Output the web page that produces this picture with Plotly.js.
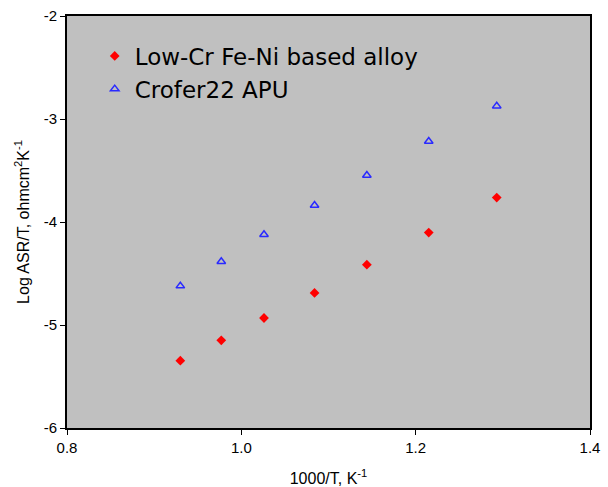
<!DOCTYPE html>
<html>
<head>
<meta charset="utf-8">
<script src="https://cdn.plot.ly/plotly-3.0.1.min.js"></script>
<style>html,body{margin:0;padding:0;background:#fff;}#chart{width:608px;height:487px;}</style>
</head>
<body>
<div id="chart"></div>
<script>
// Data
const invT = [0.930, 0.977, 1.026, 1.084, 1.144, 1.215, 1.293];
const lowCrFeNi = [-5.346, -5.149, -4.932, -4.689, -4.414, -4.103, -3.763];
const crofer22 = [-4.621, -4.384, -4.122, -3.838, -3.547, -3.217, -2.874];
const seriesNames = ["Low-Cr Fe-Ni based alloy", "Crofer22 APU"];
const yTickVals = [-2, -3, -4, -5, -6];
const yTickText = ["-2", "-3", "-4", "-5", "-6"];
const xTickVals = [0.8, 1.0, 1.2, 1.4];
const xTickText = ["0.8", "1.0", "1.2", "1.4"];

const font = "Liberation Sans, Arial, sans-serif";

const traces = [
  {
    x: invT, y: lowCrFeNi, name: seriesNames[0], type: "scatter", mode: "markers",
    legendgroup: "a",
    marker: {symbol: "diamond", size: 7.5, color: "#ff0000", line: {width: 0}}
  },
  {
    x: invT, y: crofer22, name: seriesNames[1], type: "scatter", mode: "markers",
    legendgroup: "b",
    marker: {symbol: "triangle-up-open", size: 7.5, color: "#2a2aff", line: {width: 1.5, color: "#2a2aff"}}
  }
];

const layout = {
  width: 608, height: 487,
  margin: {l: 66.5, r: 18, t: 15.7, b: 59.3},
  paper_bgcolor: "#ffffff",
  plot_bgcolor: "#c0c0c0",
  font: {family: font, color: "#000", size: 14},
  showlegend: true,
  legend: {
    x: 0.053, y: 0.955, xanchor: "left", yanchor: "top",
    bgcolor: "rgba(0,0,0,0)",
    font: {family: "DejaVu Sans, sans-serif", size: 23, color: "#000"},
    tracegroupgap: 17,
    traceorder: "normal"
  },
  xaxis: {
    range: [0.8, 1.4], tickvals: xTickVals, ticktext: xTickText,
    showgrid: false, zeroline: false,
    showline: true, linecolor: "#000", linewidth: 2, mirror: true,
    ticks: "outside", ticklen: 5, tickwidth: 1, tickcolor: "#000",
    tickfont: {family: font, size: 15, color: "#000"},
    title: {text: "1000/T, K<sup>-1</sup>", font: {family: font, size: 16, color: "#000"}, standoff: 18}
  },
  yaxis: {
    range: [-6, -2], tickvals: yTickVals, ticktext: yTickText,
    showgrid: false, zeroline: false,
    showline: true, linecolor: "#000", linewidth: 2, mirror: true,
    ticks: "outside", ticklen: 5, tickwidth: 1, tickcolor: "#000",
    tickfont: {family: font, size: 15, color: "#000"},
    title: {text: "Log ASR/T, ohmcm<sup>2</sup>K<sup>-1</sup>", font: {family: font, size: 16, color: "#000"}, standoff: 10}
  }
};

Plotly.newPlot("chart", traces, layout, {displayModeBar: false, staticPlot: true});
</script>
</body>
</html>
